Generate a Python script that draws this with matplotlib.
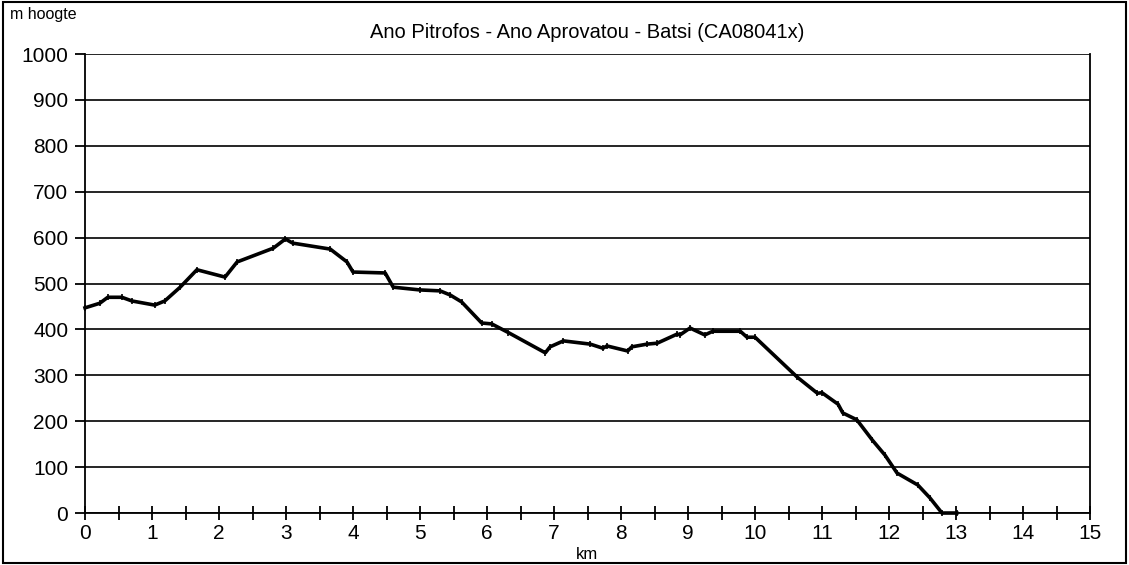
import matplotlib.pyplot as plt
from matplotlib.patches import Rectangle
import numpy as np

plt.rcParams['font.family'] = ['Liberation Sans', 'DejaVu Sans']

# distance (km) and altitude (m)
km = [0.0, 0.22, 0.34, 0.55, 0.70, 1.04, 1.19, 1.42, 1.67, 2.09, 2.27, 2.81, 2.99,
      3.10, 3.66, 3.91, 4.00, 4.48, 4.60, 5.00, 5.30, 5.45, 5.62, 5.92, 6.07, 6.32,
      6.87, 6.94, 7.14, 7.54, 7.73, 7.79, 8.10, 8.16, 8.39, 8.54, 8.84, 8.88, 9.03,
      9.25, 9.37, 9.78, 9.88, 10.00, 10.63, 10.93, 11.00, 11.24, 11.31, 11.52,
      11.75, 11.94, 12.12, 12.43, 12.61, 12.79, 13.01]
hoogte = [447, 457, 470, 470, 462, 453, 462, 492, 530, 514, 547, 577, 597,
          588, 575, 547, 525, 523, 492, 486, 484, 475, 460, 414, 412, 393,
          349, 362, 375, 368, 359, 364, 353, 362, 368, 370, 390, 388, 403,
          388, 396, 396, 383, 383, 296, 261, 262, 237, 218, 203,
          159, 126, 87, 61, 33, 0, 0]

fig = plt.figure(figsize=(11.29, 5.65), dpi=100)
ax = fig.add_axes([0.0753, 0.092, 0.8902, 0.8124])

ax.plot(km, hoogte, color='black', linewidth=2.6, marker='|', markersize=4,
        markeredgewidth=1.2, solid_joinstyle='round', clip_on=False)

ax.set_xlim(0, 15)
ax.set_ylim(0, 1000)
ax.set_xticks(np.arange(0, 16, 1))
ax.set_xticks(np.arange(0.5, 15, 1), minor=True)
ax.set_yticks(np.arange(0, 1001, 100))
ax.grid(axis='y', color='black', linewidth=1.2)
ax.set_axisbelow(True)

ax.tick_params(axis='x', which='both', direction='inout', length=10, width=1.3,
               labelsize=15, pad=3, color='black')
ax.tick_params(axis='y', which='major', direction='out', length=7, width=1.3,
               labelsize=15, pad=5)

for s in ['left', 'right', 'bottom']:
    ax.spines[s].set_linewidth(1.3)
    ax.spines[s].set_color('black')
ax.spines['top'].set_visible(False)

fig.text(0.52, 0.942, 'Ano Pitrofos - Ano Aprovatou - Batsi (CA08041x)',
         ha='center', va='center', fontsize=14.5)
fig.text(0.009, 0.974, 'm hoogte', ha='left', va='center', fontsize=11.5)
fig.text(0.52, 0.018, 'km', ha='center', va='center', fontsize=12)

fig.patches.append(Rectangle((0.003, 0.003), 0.994, 0.994, transform=fig.transFigure,
                             fill=False, edgecolor='black', linewidth=1.5))

plt.savefig('out.png', dpi=100)
